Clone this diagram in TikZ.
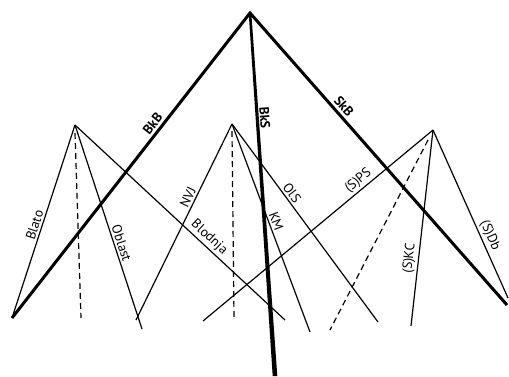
\documentclass[tikz,border=0pt]{standalone}
\usepackage{fontspec}
\setmainfont{PT Sans}
\usetikzlibrary{calc}
\begin{document}
\begin{tikzpicture}[x=1pt,y=-1pt,
  thinline/.style={line width=1.2pt},
  thickline/.style={line width=3pt},
  dashline/.style={line width=1.2pt, dash pattern=on 6pt off 4pt},
  lab/.style={font=\fontsize{13.5}{15}\selectfont, sloped, above, inner sep=2pt},
  blab/.style={font=\fontsize{13.5}{15}\selectfont\bfseries, sloped, above, inner sep=2.4pt}]
\useasboundingbox (0,0) rectangle (509,376);
% apexes
\coordinate (T) at (250,13);
\coordinate (L) at (75,125);
\coordinate (M) at (232,124);
\coordinate (R) at (433,130);
% ends
\coordinate (BL) at (12,318);
\coordinate (BR) at (507,305);
\coordinate (BB) at (275,376);
\coordinate (Ld) at (81,318);
\coordinate (Lds) at (75,133);
\coordinate (Lo) at (142,329);
\coordinate (Lb) at (285,320);
\coordinate (Mn) at (136,320);
\coordinate (Md) at (234,318);
\coordinate (Mds) at (232,131);
\coordinate (Mk) at (310,332);
\coordinate (Mo) at (378,322);
\coordinate (Rp) at (203,321);
\coordinate (Rd) at (330,330);
\coordinate (Rds) at (428,140);
\coordinate (Rk) at (411,326);
\coordinate (Rs) at (508,298);
% thin lines
\draw[thinline] (BL) -- node[lab,pos=0.47]{Blato} (L);
\draw[dashline] (Lds) -- (Ld);
\draw[thinline] (L) -- node[lab,pos=0.59]{Oblast} (Lo);
\draw[thinline] (L) -- node[lab,pos=0.61]{Blodnja} (Lb);
\draw[thinline] (Mn) -- node[lab,pos=0.61]{NVJ} (M);
\draw[dashline] (Mds) -- (Md);
\draw[thinline] (M) -- node[lab,pos=0.48]{KM} (Mk);
\draw[thinline] (M) -- node[lab,pos=0.37]{OlS} (Mo);
\draw[thinline] (Rp) -- node[lab,pos=0.70]{(S)PS} (R);
\draw[dashline] (Rds) -- (Rd);
\draw[thinline] (Rk) -- node[lab,pos=0.34]{(S)KC} (R);
\draw[thinline] (R) -- node[lab,pos=0.65]{(S)Db} (Rs);
% thick lines
\draw[thickline, line join=miter] (BL) -- node[blab,pos=0.62]{BkB} (T) -- node[blab,pos=0.34]{SkB} (BR);
\fill ($(T)+(-1.3,0)$) -- ($(T)+(1.3,0)$) -- ($(BB)+(2.3,0)$) -- ($(BB)+(-2.3,0)$) -- cycle;
\path (T) -- node[blab,pos=0.29]{BkS} (BB);
\end{tikzpicture}
\end{document}
